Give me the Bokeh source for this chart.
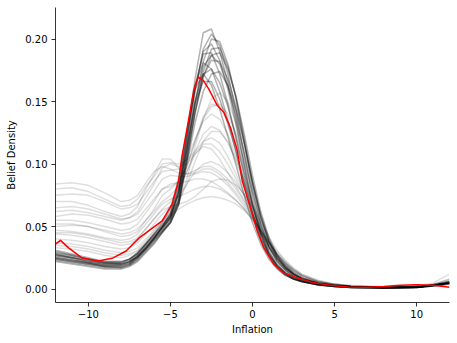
from bokeh.plotting import figure
from bokeh.models import Range1d, FixedTicker
from bokeh.embed import file_html
from bokeh.resources import INLINE

# common grid of inflation values for the grey belief curves
X_GRID = [-12, -11, -10, -9, -8, -7.5, -7, -6.5, -6, -5.5, -5, -4.5, -4, -3.5, -3, -2.5, -2, -1.5,
          -1, -0.5, 0, 0.5, 1, 1.5, 2, 2.5, 3, 4, 5, 6, 8, 10, 11, 12]

# dense (dark) cluster of belief densities
D01 = [.024, .022, .020, .018, .018, .020, .025, .032, .040, .048, .057, .078, .120, .168, .205, .208, .190, .165, .135, .100, .068, .044, .028, .018, .012, .008, .006, .003, .002, .0012, .001, .0015, .003, .005]
D02 = [.028, .025, .022, .020, .020, .022, .027, .034, .041, .049, .057, .075, .115, .158, .192, .204, .195, .172, .142, .107, .073, .047, .030, .019, .013, .009, .006, .0035, .002, .0013, .001, .0015, .003, .005]
D03 = [.025, .023, .021, .018, .017, .019, .024, .031, .038, .046, .054, .070, .108, .148, .182, .200, .198, .180, .152, .117, .081, .053, .034, .022, .015, .010, .007, .004, .0025, .0015, .001, .0012, .0025, .0045]
D04 = [.030, .027, .024, .021, .021, .024, .029, .036, .044, .051, .059, .079, .118, .160, .190, .196, .183, .160, .131, .098, .067, .044, .028, .018, .012, .008, .006, .0035, .002, .0012, .0008, .0015, .0035, .006]
D05 = [.022, .020, .018, .016, .016, .018, .022, .029, .036, .045, .053, .068, .104, .142, .174, .192, .193, .178, .153, .120, .085, .057, .037, .024, .016, .011, .008, .0045, .0027, .0017, .0012, .0012, .0025, .004]
D06 = [.027, .025, .023, .021, .020, .022, .026, .033, .041, .050, .060, .082, .122, .162, .188, .189, .172, .148, .120, .090, .062, .041, .027, .018, .012, .008, .006, .0035, .002, .0013, .001, .0015, .003, .0055]
D07 = [.026, .024, .021, .019, .019, .021, .026, .033, .040, .047, .055, .072, .110, .150, .178, .187, .180, .162, .138, .108, .077, .051, .033, .022, .015, .010, .007, .004, .0025, .0015, .001, .0015, .003, .005]
D08 = [.029, .027, .024, .022, .022, .024, .028, .035, .042, .049, .056, .071, .105, .142, .170, .183, .182, .168, .146, .117, .086, .058, .038, .025, .017, .012, .008, .0045, .0028, .0018, .0012, .0015, .003, .005]
D09 = [.024, .022, .020, .018, .018, .020, .025, .032, .040, .050, .061, .085, .125, .163, .181, .176, .158, .135, .110, .083, .058, .039, .026, .017, .011, .008, .006, .0035, .002, .0012, .0008, .0013, .003, .005]
D10 = [.031, .028, .025, .022, .022, .024, .029, .036, .043, .050, .058, .076, .112, .150, .172, .176, .165, .146, .122, .094, .067, .045, .030, .020, .013, .009, .007, .004, .0025, .0015, .001, .0015, .0035, .006]
D11 = [.023, .021, .019, .017, .017, .019, .023, .030, .037, .045, .053, .067, .100, .133, .158, .172, .174, .163, .143, .116, .086, .059, .039, .026, .017, .012, .008, .0045, .0028, .0018, .0012, .0012, .0025, .004]
D12 = [.028, .026, .023, .021, .021, .023, .028, .036, .044, .053, .064, .088, .126, .160, .172, .163, .144, .122, .099, .075, .053, .036, .024, .016, .011, .008, .006, .0035, .002, .0013, .001, .0015, .003, .005]
D13 = [.025, .023, .021, .019, .019, .021, .026, .033, .041, .049, .058, .078, .113, .148, .166, .166, .152, .132, .110, .085, .061, .041, .028, .019, .013, .009, .0065, .004, .0025, .0015, .001, .0015, .003, .005]
D14 = [.027, .025, .022, .020, .020, .022, .026, .032, .039, .046, .053, .068, .102, .140, .170, .187, .189, .176, .154, .124, .091, .062, .041, .027, .018, .012, .009, .005, .003, .002, .0013, .0013, .0025, .0045]

# spread-out (light) belief densities
L01 = [.084, .085, .083, .077, .070, .071, .075, .085, .094, .098, .096, .093, .092, .095, .098, .098, .094, .088, .080, .070, .058, .045, .034, .025, .019, .014, .010, .006, .004, .0025, .0015, .002, .004, .008]
L02 = [.080, .081, .078, .072, .066, .067, .072, .082, .090, .100, .101, .100, .103, .110, .118, .121, .117, .106, .092, .076, .060, .045, .033, .024, .017, .012, .009, .005, .003, .002, .0015, .002, .003, .005]
L03 = [.075, .076, .075, .070, .064, .065, .068, .077, .086, .094, .095, .096, .104, .120, .134, .140, .136, .124, .106, .086, .066, .048, .034, .024, .017, .012, .008, .005, .003, .002, .0012, .0015, .003, .005]
L04 = [.070, .070, .067, .062, .058, .060, .066, .080, .092, .104, .104, .097, .092, .093, .096, .096, .092, .085, .077, .068, .058, .047, .037, .028, .021, .016, .012, .007, .004, .003, .002, .002, .004, .008]
L05 = [.062, .063, .061, .058, .055, .057, .062, .073, .084, .097, .100, .098, .100, .108, .114, .112, .104, .093, .082, .071, .060, .048, .036, .026, .019, .013, .009, .005, .003, .002, .0015, .0025, .005, .012]
L06 = [.058, .060, .059, .056, .052, .053, .056, .064, .072, .080, .082, .086, .098, .118, .138, .148, .146, .134, .115, .092, .069, .049, .034, .023, .016, .011, .008, .0045, .0028, .0018, .0012, .0015, .003, .005]
L07 = [.055, .055, .053, .050, .047, .048, .052, .061, .070, .080, .084, .085, .086, .088, .088, .086, .082, .077, .071, .064, .055, .045, .035, .027, .020, .015, .011, .006, .004, .0025, .0015, .002, .003, .006]
L08 = [.050, .051, .050, .047, .044, .045, .048, .055, .062, .070, .075, .082, .094, .110, .124, .130, .127, .117, .102, .084, .065, .048, .034, .024, .017, .012, .008, .0045, .0028, .0018, .0012, .0015, .003, .005]
L09 = [.047, .046, .044, .041, .039, .040, .044, .052, .060, .068, .072, .074, .077, .080, .082, .082, .080, .076, .071, .064, .056, .046, .037, .028, .021, .015, .011, .006, .0035, .0022, .0015, .002, .0035, .007]
L10 = [.044, .043, .041, .038, .035, .036, .040, .048, .056, .064, .070, .080, .094, .108, .116, .116, .110, .100, .088, .074, .060, .046, .034, .025, .018, .013, .009, .005, .003, .002, .0013, .0015, .003, .005]
L11 = [.040, .039, .037, .034, .032, .033, .037, .044, .052, .060, .066, .074, .084, .094, .100, .102, .099, .093, .085, .075, .063, .050, .038, .028, .020, .014, .010, .0055, .0033, .002, .0013, .0015, .003, .005]
L12 = [.037, .036, .034, .031, .029, .030, .033, .040, .047, .055, .061, .070, .084, .102, .118, .126, .126, .118, .104, .087, .069, .052, .038, .027, .019, .013, .009, .005, .003, .002, .0013, .0015, .003, .005]
L13 = [.035, .034, .032, .029, .027, .028, .031, .038, .046, .054, .059, .064, .068, .071, .073, .074, .073, .071, .068, .063, .056, .047, .038, .030, .023, .017, .012, .007, .004, .0025, .0015, .002, .003, .006]
L14 = [.065, .066, .064, .060, .056, .057, .060, .069, .078, .088, .091, .090, .090, .092, .094, .093, .089, .083, .075, .066, .057, .047, .037, .028, .021, .015, .011, .006, .0035, .0022, .0014, .0018, .0035, .007]
L15 = [.052, .052, .050, .046, .042, .043, .046, .055, .064, .075, .080, .086, .098, .118, .136, .146, .148, .140, .124, .102, .078, .056, .039, .027, .018, .012, .008, .0045, .0028, .0018, .0012, .0015, .003, .005]
L16 = [.045, .045, .043, .040, .037, .038, .041, .048, .056, .063, .066, .068, .070, .074, .080, .086, .088, .087, .083, .076, .066, .054, .042, .031, .022, .016, .011, .006, .0035, .002, .0013, .0015, .003, .005]
L17 = [.033, .032, .030, .027, .025, .027, .030, .037, .044, .052, .058, .068, .088, .114, .136, .152, .157, .150, .133, .110, .084, .060, .041, .028, .019, .013, .009, .005, .003, .002, .0013, .0015, .003, .005]

# the highlighted (red) belief density
RED_X = [-12, -11.7, -11.2, -10.4, -9.4, -8.55, -7.7, -6.9, -6.1, -5.5, -4.9, -4.5, -4.3, -3.98,
         -3.58, -3.3, -3.0, -2.66, -2.15, -1.75, -1.34, -0.93, -0.63, -0.12, 0.29, 0.69, 1.3,
         1.9, 2.72, 3.74, 4.76, 5.77, 7, 8, 9, 10, 11, 12]
RED_Y = [0.036, 0.039, 0.033, 0.025, 0.0225, 0.0246, 0.0305, 0.041, 0.0487, 0.0546, 0.068,
         0.0867, 0.106, 0.129, 0.159, 0.1696, 0.167, 0.160, 0.147, 0.1415, 0.129, 0.111, 0.0867,
         0.065, 0.0465, 0.033, 0.0198, 0.013, 0.009, 0.005, 0.003, 0.0016, 0.0015, 0.002, 0.003,
         0.0035, 0.003, 0.0015]

DARK = [D01, D02, D03, D04, D05, D06, D07, D08, D09, D10, D11, D12, D13, D14]
LIGHT = [L01, L02, L03, L04, L05, L06, L07, L08, L09, L10, L11, L12, L13, L14, L15, L16, L17]

X_TICKS = [-10, -5, 0, 5, 10]
Y_TICKS = [0.0, 0.05, 0.10, 0.15, 0.20]

FONT = "DejaVu Sans"

p = figure(width=455, height=340, output_backend="svg", toolbar_location=None,
           x_range=Range1d(-12, 12), y_range=Range1d(-0.0107, 0.2252),
           min_border_left=55, min_border_right=6, min_border_top=7, min_border_bottom=38)
p.outline_line_color = None
p.grid.visible = False
p.background_fill_color = "white"
p.border_fill_color = "white"

for ys in LIGHT:
    p.line(X_GRID, ys, line_color="black", line_alpha=0.13, line_width=1.5, line_join="round")
for ys in DARK:
    p.line(X_GRID, ys, line_color="black", line_alpha=0.3, line_width=1.5, line_join="round")
p.line(RED_X, RED_Y, line_color="red", line_width=1.5, line_join="round")

p.xaxis.ticker = FixedTicker(ticks=X_TICKS)
p.yaxis.ticker = FixedTicker(ticks=Y_TICKS)
p.xaxis.major_label_overrides = {t: (("\u2212" + str(-t)) if t < 0 else str(t)) for t in X_TICKS}
p.yaxis.major_label_overrides = {t: f"{t:.2f}" for t in Y_TICKS}
p.xaxis.axis_label = "Inflation"
p.yaxis.axis_label = "Belief Density"

for ax in (p.xaxis, p.yaxis):
    ax.axis_line_color = "black"
    ax.axis_line_width = 0.8
    ax.major_tick_line_color = "black"
    ax.major_tick_line_width = 0.8
    ax.major_tick_out = 4
    ax.major_tick_in = 0
    ax.minor_tick_line_color = None
    ax.major_label_text_font = FONT
    ax.major_label_text_font_size = "10px"
    ax.major_label_text_color = "black"
    ax.axis_label_text_font = FONT
    ax.axis_label_text_font_size = "10px"
    ax.axis_label_text_font_style = "normal"
    ax.axis_label_text_color = "black"
p.xaxis.major_label_standoff = 3
p.xaxis.axis_label_standoff = 3
p.yaxis.major_label_standoff = 4
p.yaxis.axis_label_standoff = 5

open("out.html", "w").write(file_html(p, INLINE))
